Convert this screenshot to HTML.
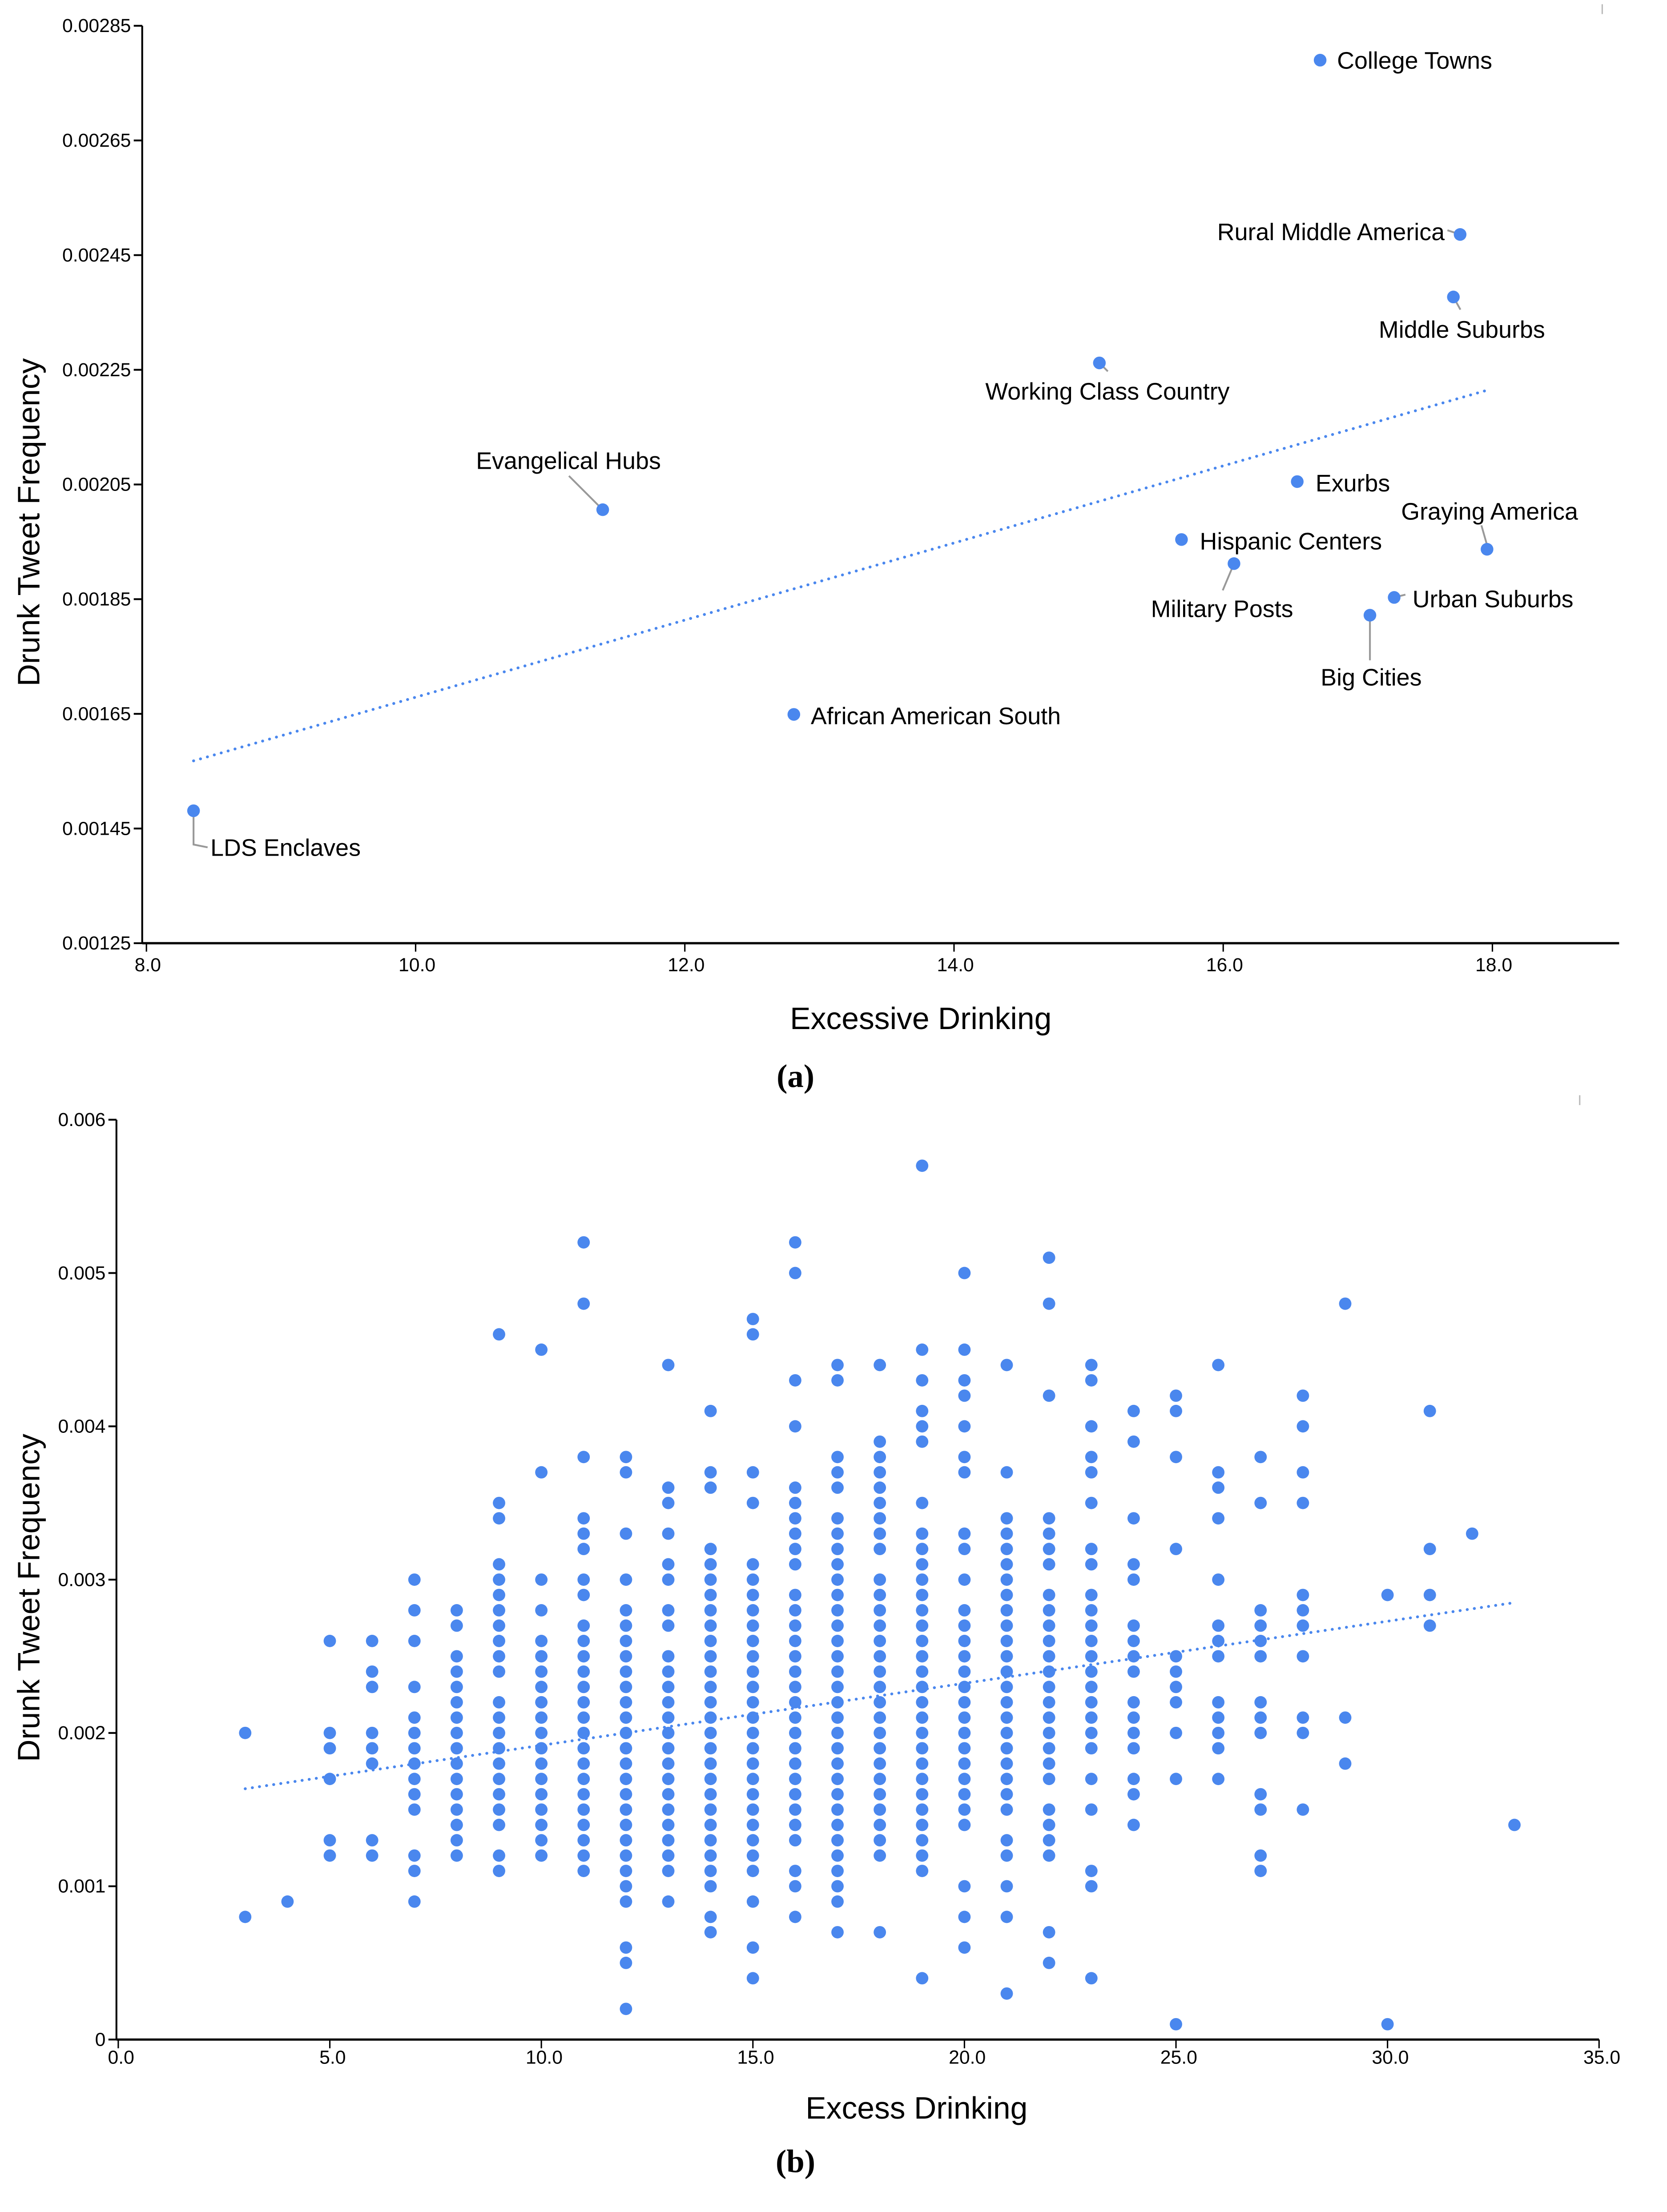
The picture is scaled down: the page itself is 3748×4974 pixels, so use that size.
<!DOCTYPE html>
<html><head><meta charset="utf-8"><style>
html,body{margin:0;padding:0;background:#fff;}
svg{display:block;}
text{font-family:"Liberation Sans",Arial,sans-serif;fill:#000;}
text.cap{font-family:"Liberation Serif",serif;}
</style></head><body>
<svg id="fig" width="3748" height="4974" viewBox="0 0 1184 1571.3" preserveAspectRatio="none" xmlns="http://www.w3.org/2000/svg"></svg>
<script>
// ---------- Chart (a) data ----------
const aNames = ["College Towns","Rural Middle America","Middle Suburbs","Working Class Country","Evangelical Hubs","Exurbs","Hispanic Centers","Military Posts","Graying America","Urban Suburbs","Big Cities","African American South","LDS Enclaves"];
const aX = [16.72,17.76,17.71,15.08,11.39,16.55,15.69,16.08,17.96,17.27,17.09,12.81,8.35];
const aY = [0.00279,0.002486,0.002377,0.002262,0.002006,0.002055,0.001954,0.001912,0.001937,0.001853,0.001822,0.001649,0.001481];
const aTrendX = [8.35,17.97];
const aTrendY = [0.001568,0.002215];
const aYTicks = [0.00125,0.00145,0.00165,0.00185,0.00205,0.00225,0.00245,0.00265,0.00285];
const aYTickLabels = ["0.00125","0.00145","0.00165","0.00185","0.00205","0.00225","0.00245","0.00265","0.00285"];
const aXTicks = [8,10,12,14,16,18];
const aXTickLabels = ["8.0","10.0","12.0","14.0","16.0","18.0"];

// ---------- Chart (b) data (y values in units of 0.0001) ----------
const bCols = [3,4,5,6,7,8,9,10,11,12,13,14,15,16,17,18,19,20,21,22,23,24,25,26,27,28,29,30,31,32,33];
const bVals = [
 [20,8],
 [9],
 [26,20,19,17,13,12],
 [26,24,23,20,19,18,13,12],
 [30,28,26,23,21,20,19,18,17,16,15,12,11,9],
 [28,27,25,24,23,22,21,20,19,18,17,16,15,14,13,12],
 [46,35,34,31,30,29,28,27,26,25,24,22,21,20,19,18,17,16,15,14,12,11],
 [45,37,30,28,26,25,24,23,22,21,20,19,18,17,16,15,14,13,12],
 [52,48,38,34,33,32,30,29,27,26,25,24,23,22,21,20,19,18,17,16,15,14,13,12,11],
 [38,37,33,30,28,27,26,25,24,23,22,21,20,19,18,17,16,15,14,13,12,11,10,9,6,5,2],
 [44,36,35,33,31,30,28,27,25,24,23,22,21,20,19,18,17,16,15,14,13,12,11,9],
 [41,37,36,32,31,30,29,28,27,26,25,24,23,22,21,20,19,18,17,16,15,14,13,12,11,10,8,7],
 [47,46,37,35,31,30,29,28,27,26,25,24,23,22,21,20,19,18,17,16,15,14,13,12,11,9,6,4],
 [52,50,43,40,36,35,34,33,32,31,29,28,27,26,25,24,23,22,21,20,19,18,17,16,15,14,13,11,10,8],
 [44,43,38,37,36,34,33,32,31,30,29,28,27,26,25,24,23,22,21,20,19,18,17,16,15,14,13,12,11,10,9,7],
 [44,39,38,37,36,35,34,33,32,30,29,28,27,26,25,24,23,22,21,20,19,18,17,16,15,14,13,12,7],
 [57,45,43,41,40,39,35,33,32,31,30,29,28,27,26,25,24,23,22,21,20,19,18,17,16,15,14,13,12,11,4],
 [50,45,43,42,40,38,37,33,32,30,28,27,26,25,24,23,22,21,20,19,18,17,16,15,14,10,8,6],
 [44,37,34,33,32,31,30,29,28,27,26,25,24,23,22,21,20,19,18,17,16,15,13,12,10,8,3],
 [51,48,42,34,33,32,31,29,28,27,26,25,24,23,22,21,20,19,18,17,15,14,13,12,7,5],
 [44,43,40,38,37,35,32,31,29,28,27,26,25,24,23,22,21,20,19,17,15,11,10,4],
 [41,39,34,31,30,27,26,25,24,22,21,20,19,17,16,14],
 [42,41,38,32,25,24,23,22,20,17,1],
 [44,37,36,34,30,27,26,25,22,21,20,19,17],
 [38,35,28,27,26,25,22,21,20,16,15,12,11],
 [42,40,37,35,29,28,27,25,21,20,15],
 [48,21,18],
 [29,1],
 [41,32,29,27],
 [33],
 [14]
];
const bTrendX = [3,33];
const bTrendY = [0.001636,0.00285];
const bYTicks = [0,0.001,0.002,0.003,0.004,0.005,0.006];
const bYTickLabels = ["0","0.001","0.002","0.003","0.004","0.005","0.006"];
const bXTicks = [0,5,10,15,20,25,30,35];
const bXTickLabels = ["0.0","5.0","10.0","15.0","20.0","25.0","30.0","35.0"];

const NS = "http://www.w3.org/2000/svg";
const svg = document.getElementById("fig");
const BLUE = "#4a87ee";
function mk(tag, attrs, parent){
  const e = document.createElementNS(NS, tag);
  for (const k in attrs) e.setAttribute(k, attrs[k]);
  (parent||svg).appendChild(e);
  return e;
}

const axA = v => 104 + (v-8)*95.6;
const ayA = v => 18.3 + (0.00285 - v)/0.0016*651.7;
const axB = v => 84 + v*30.05;
const ayB = v => 1448.8 - v/0.006*653.4;

// ================= Chart (a) =================
const gA = mk("g", {});



const aYAxis = mk("line", {x1:101,y1:18.3,x2:101,y2:670,stroke:"#000","stroke-width":1.3}, gA);


const aXAxis = mk("line", {x1:101,y1:670,x2:1150,y2:670,stroke:"#000","stroke-width":1.6}, gA);



aYTicks.forEach((v,i)=>{
  const y = ayA(v);
  mk("line",{x1:95,y1:y,x2:101,y2:y,stroke:"#000","stroke-width":1.3},gA);
  const t = mk("text",{x:93,y:y+4.5,"font-size":13.5,"text-anchor":"end"},gA);
  t.textContent = aYTickLabels[i];
  
  
});
aXTicks.forEach((v,i)=>{
  const x = axA(v);
  mk("line",{x1:x,y1:670,x2:x,y2:676,stroke:"#000","stroke-width":1},gA);
  const t = mk("text",{x:x+1,y:690,"font-size":13.5,"text-anchor":"middle"},gA);
  t.textContent = aXTickLabels[i];
  
  
});

const aTrend = mk("line",{x1:axA(aTrendX[0]),y1:ayA(aTrendY[0]),x2:axA(aTrendX[1]),y2:ayA(aTrendY[1]),stroke:BLUE,"stroke-width":2,"stroke-dasharray":"0.1 5","stroke-linecap":"round"},gA);



const aLabelPos = [
 [12,6,"start",null],
 [-11,4,"end",[-9,-3,0,0]],
 [-53,29,"start",[0,0,5,9]],
 [-81,26,"start",[0,0,6,6]],
 [-90,-29,"start",[-24,-24,0,0]],
 [13,7,"start",null],
 [13,7,"start",null],
 [-59,38,"start",[-8,19,0,0]],
 [-61,-21,"start",[-4,-17,0,-3]],
 [13,7,"start",[0,0,8,-2]],
 [-35,50,"start",[0,0,0,32]],
 [12,7,"start",null],
 [12,32,"start",[0,0,0,24]]
];
aNames.forEach((n,i)=>{
  const px = axA(aX[i]), py = ayA(aY[i]);
  const L = aLabelPos[i];
  if (L[3]) {
    const ld = mk("polyline",{points:`${px+L[3][0]},${py+L[3][1]} ${px+L[3][2]},${py+L[3][3]}`+(i===12?` ${px+10},${py+26}`:""),fill:"none",stroke:"#999","stroke-width":1.3},gA);
    
    
  }
  const c = mk("circle",{cx:px,cy:py,r:4.5,fill:BLUE},gA);
  
  
  const t = mk("text",{x:px+L[0],y:py+L[1],"font-size":17,"text-anchor":L[2]},gA);
  t.textContent = n;
  
  
});

const aYT = mk("text",{x:0,y:0,"font-size":22,"text-anchor":"middle",transform:"translate(28,371) rotate(-90)"},gA);
aYT.textContent = "Drunk Tweet Frequency";


const aXT = mk("text",{x:654,y:731,"font-size":22,"text-anchor":"middle"},gA);
aXT.textContent = "Excessive Drinking";


const aCap = mk("text",{x:565,y:772,"font-size":23,"text-anchor":"middle","class":"cap","font-weight":"bold"},gA);
aCap.textContent = "(a)";


const aMark = mk("line",{x1:1138,y1:3,x2:1138,y2:10,stroke:"#bbb","stroke-width":1},gA);



// ================= Chart (b) =================
const gB = mk("g", {});



const bYAxis = mk("line",{x1:82.7,y1:795.4,x2:82.7,y2:1448.8,stroke:"#000","stroke-width":1.3},gB);


const bXAxis = mk("line",{x1:82.7,y1:1448.8,x2:1135.7,y2:1448.8,stroke:"#000","stroke-width":1.6},gB);



bYTicks.forEach((v,i)=>{
  const y = ayB(v);
  mk("line",{x1:77,y1:y,x2:82.7,y2:y,stroke:"#000","stroke-width":1.3},gB);
  const t = mk("text",{x:75,y:y+4.5,"font-size":13.5,"text-anchor":"end"},gB);
  t.textContent = bYTickLabels[i];
  
  
});
bXTicks.forEach((v,i)=>{
  const x = axB(v);
  mk("line",{x1:x,y1:1448.8,x2:x,y2:1455,stroke:"#000","stroke-width":1},gB);
  const t = mk("text",{x:x+2,y:1466,"font-size":13.5,"text-anchor":"middle"},gB);
  t.textContent = bXTickLabels[i];
  
  
});

bCols.forEach((cx,ci)=>{
  bVals[ci].forEach(v=>{
    const c = mk("circle",{cx:axB(cx),cy:ayB(v*0.0001),r:4.4,fill:BLUE},gB);
    
    
  });
});

const bTrend = mk("line",{x1:axB(bTrendX[0]),y1:ayB(bTrendY[0]),x2:axB(bTrendX[1]),y2:ayB(bTrendY[1]),stroke:BLUE,"stroke-width":2,"stroke-dasharray":"0.1 5","stroke-linecap":"round"},gB);



const bYT = mk("text",{x:0,y:0,"font-size":22,"text-anchor":"middle",transform:"translate(28,1135) rotate(-90)"},gB);
bYT.textContent = "Drunk Tweet Frequency";


const bXT = mk("text",{x:651,y:1505,"font-size":22,"text-anchor":"middle"},gB);
bXT.textContent = "Excess Drinking";


const bCap = mk("text",{x:565,y:1543,"font-size":23,"text-anchor":"middle","class":"cap","font-weight":"bold"},gB);
bCap.textContent = "(b)";


const bMark = mk("line",{x1:1122,y1:778,x2:1122,y2:785,stroke:"#bbb","stroke-width":1},gB);


</script>
</body></html>
